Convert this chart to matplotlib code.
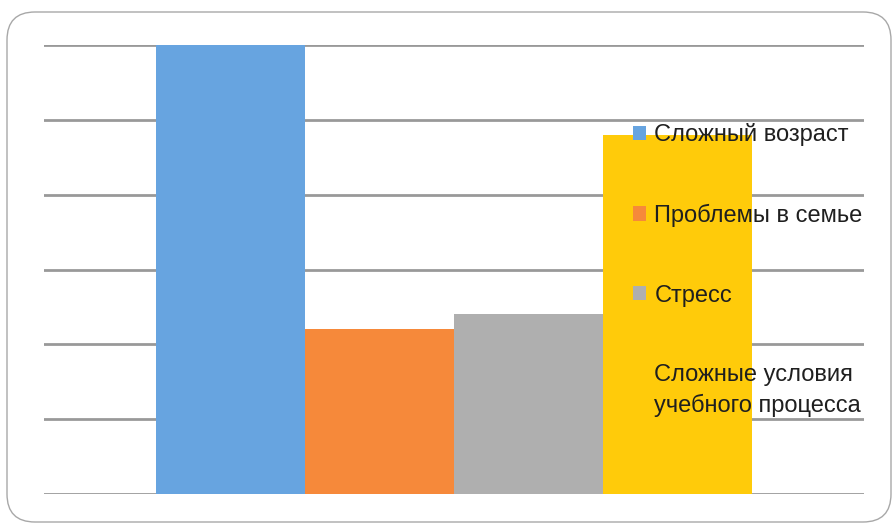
import numpy as np
import matplotlib.pyplot as plt
from matplotlib.patches import FancyBboxPatch

# four reasons, one value each (axis 0..60, grid every 10)
labels = ['Сложный возраст', 'Проблемы в семье', 'Стресс',
          'Сложные условия\nучебного процесса']
values = [60, 22, 24, 48]
colors = ['#67A4E0', '#F6893A', '#AFAFAF', '#FFCB0A']

plt.rcParams['font.family'] = ['Liberation Sans', 'DejaVu Sans']

fig = plt.figure(figsize=(8.93, 5.24), dpi=100)

# rounded frame around the chart, drawn in pixels
frame = FancyBboxPatch((7, 2), 884, 510,
                       boxstyle='round,pad=0,rounding_size=28',
                       transform=None, fc='white', ec='#A8A8A8',
                       lw=1.0, zorder=-1)
fig.patches.append(frame)

ax = fig.add_axes([44 / 893, 30 / 524, 820 / 893, 449 / 524])
ax.set_facecolor('none')

x = np.arange(len(values))
bars = ax.bar(x, values, width=1.0, color=colors, zorder=2)

ax.set_xlim(-1.25, 4.25)
ax.set_ylim(0, 60)
ax.set_yticks(np.arange(0, 61, 10))
ax.yaxis.grid(True, color='#999999', lw=2, zorder=0)
ax.set_axisbelow(True)
ax.tick_params(left=False, bottom=False, labelleft=False, labelbottom=False)
for s in ax.spines.values():
    s.set_visible(False)

leg = ax.legend(bars, labels, loc='upper left', bbox_to_anchor=(0.707, 0.847),
                frameon=False, fontsize=17, handlelength=0.55,
                handleheight=0.55, handletextpad=0.35, labelspacing=2.44,
                borderaxespad=0)
for t in leg.get_texts():
    t.set_color('#1f1f1f')
    t.set_linespacing(1.4)
leg.set_zorder(5)

fig.savefig('out.png', dpi=100)
